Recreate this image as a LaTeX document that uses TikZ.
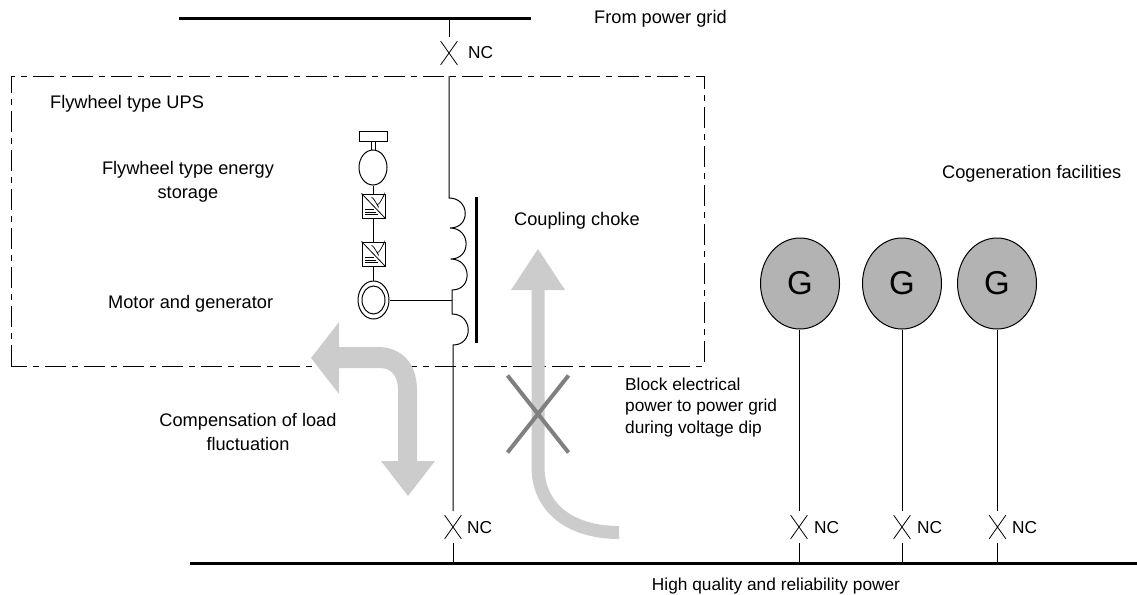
\documentclass[tikz,border=0pt]{standalone}
\usepackage{fontspec}
\setmainfont{Liberation Sans}
\usetikzlibrary{shapes.geometric,shapes.misc}
\definecolor{arrowgray}{HTML}{CCCCCC}
\definecolor{crossgray}{HTML}{808080}
\definecolor{gengray}{HTML}{B3B3B3}
\tikzset{
  wire/.style={line width=1pt,black},
  busbar/.style={line width=3pt,black},
  breaker/.style={cross out,draw=black,line width=0.8pt,minimum width=16pt,minimum height=23pt,inner sep=0pt},
  gapwire/.style={wire,shorten >=4pt},
  lbl/.style={font=\fontsize{18.2pt}{23.5pt}\selectfont,inner sep=0pt,text=black},
  lbls/.style={font=\fontsize{17.3pt}{21.5pt}\selectfont,inner sep=0pt,text=black},
  gen/.style={ellipse,draw=black,line width=1pt,fill=gengray,minimum width=79pt,minimum height=91pt,inner sep=0pt,font=\fontsize{33pt}{36pt}\selectfont},
  conv/.style={rectangle,draw=black,line width=1pt,minimum width=23pt,minimum height=24pt,inner sep=0pt},
  mach/.style={ellipse,draw=black,line width=1pt,inner sep=0pt},
  bigarrow/.style={fill=arrowgray,draw=none},
}
\newcommand{\convsym}[1]{%
  \draw[line width=0.8pt] (#1.north west) -- (#1.south east);
  \draw[line width=0.7pt] ([shift={(10,4)}]#1.north west) .. controls +(3,0) and +(3,8) .. ([shift={(16,11)}]#1.north west) .. controls +(3,0) and +(3,-8) .. ([shift={(22,3)}]#1.north west);
  \draw[line width=0.6pt] ([shift={(3,16)}]#1.north west) -- ([shift={(12,16)}]#1.north west);
  \draw[line width=0.6pt] ([shift={(3,18.5)}]#1.north west) -- ([shift={(14,18.5)}]#1.north west);
  \draw[line width=0.6pt] ([shift={(3,21)}]#1.north west) -- ([shift={(16,21)}]#1.north west);
}
\begin{document}
\begin{tikzpicture}[x=1pt,y=-1pt]
\useasboundingbox (0,0) rectangle (1137,594);
% UPS enclosure
\draw[line width=1pt,dash pattern=on 21pt off 6pt on 6pt off 6pt] (11,366) -- (11,76) -- (704,76) -- (704,366) -- cycle;

% bus bars
\coordinate (topL) at (179,19);
\coordinate (topR) at (531,19);
\coordinate (topT) at (449,19);
\coordinate (botL) at (190,563);
\coordinate (botR) at (1137,563);
\draw[busbar] (topL) -- (topR);
\draw[busbar] (botL) -- (botR);

% breakers
\node[breaker] (bTop) at (449,53) {};
\node[breaker] (bMain) at (453,527) {};
\node[breaker] (bG1) at (799,527) {};
\node[breaker] (bG2) at (902,527) {};
\node[breaker] (bG3) at (997.5,527) {};
\coordinate (busMain) at (453,563);
\coordinate (busG1) at (799,563);
\coordinate (busG2) at (902,563);
\coordinate (busG3) at (997.5,563);

% main line with coil
\coordinate (coilTop) at (449,198);
\coordinate (c1) at (450,228);
\coordinate (c2) at (450.7,259);
\coordinate (c3) at (452,290);
\coordinate (c4) at (452,314);
\coordinate (c5) at (453,345);
\coordinate (boxTop) at (449,76);
\coordinate (choke1) at (476,197);
\coordinate (choke2) at (476,343);
\draw[gapwire] (topT) -- (bTop.north);
\draw[wire] (boxTop) -- (coilTop)
  .. controls +(21,0) and +(21,0) .. (c1)
  .. controls +(21,0) and +(21,0) .. (c2)
  .. controls +(21,0) and +(21,0) .. (c3)
  -- (c4)
  .. controls +(21,0) and +(21,0) .. (c5)
  -- ([yshift=4pt]bMain.north);
\draw[wire] ([yshift=-4pt]bMain.south) -- (busMain);
\draw[line width=3pt] (choke1) -- (choke2);

% big grey arrows
\fill[bigarrow] (311,358) -- (339,322) -- (339,347) -- (378,347)
  .. controls (403,347) and (417,365) .. (417,390)
  -- (417,461) -- (435,461) -- (408,496) -- (381,461) -- (398,461) -- (398,390)
  .. controls (398,377) and (392,368) .. (380,368)
  -- (339,368) -- (339,394) -- cycle;
\fill[bigarrow] (538,249) -- (565,290) -- (544.5,290) -- (544.5,467)
  .. controls (544.5,505) and (575,526) .. (619,526)
  -- (619,539)
  .. controls (565,539) and (531.5,510) .. (531.5,467)
  -- (531.5,290) -- (511,290) -- cycle;
\node[cross out,draw=crossgray,line width=4pt,minimum width=57pt,minimum height=73pt,inner sep=0pt] (block) at (538,414) {};

% flywheel chain
\node[rectangle,draw=black,line width=1pt,minimum width=28pt,minimum height=10pt,inner sep=0pt] (wheel) at (373,136) {};
\node[mach,minimum width=28pt,minimum height=35pt] (fw) at (373,167.5) {};
\node[conv] (cv1) at (373.5,206) {};
\node[conv] (cv2) at (373.5,254) {};
\node[mach,minimum width=31pt,minimum height=38pt] (mg) at (373.5,300) {};
\node[mach,minimum width=23pt,minimum height=28pt] (mgi) at (373.5,300) {};
\convsym{cv1}
\convsym{cv2}
\draw[wire] ([xshift=-2pt]wheel.south) -- ([xshift=-2pt]wheel.south |- fw.north);
\draw[wire] ([xshift=2pt]wheel.south) -- ([xshift=2pt]wheel.south |- fw.north);
\draw[wire] (fw.south) -- (fw.south |- cv1.north);
\draw[wire] (cv1.south) -- (cv2.north);
\draw[wire] (cv2.south) -- (mg.north);
\coordinate (tap) at (452,300);
\draw[wire] (mg.east) -- (tap);

% generators
\node[gen] (g1) at (800,283.5) {G};
\node[gen] (g2) at (902,283.5) {G};
\node[gen] (g3) at (997,283.5) {G};
\foreach \n in {1,2,3}{
  \draw[wire] (bG\n.north |- g\n.south) -- ([yshift=4pt]bG\n.north);
  \draw[wire] ([yshift=-4pt]bG\n.south) -- (busG\n);
}

% labels
\node[lbl,anchor=base west] (tGrid) at (594,24) {From power grid};
\node[lbls,anchor=base west] (nc0) at (468,59) {NC};
\node[lbls,anchor=base west] (nc1) at (467,533) {NC};
\node[lbls,anchor=base west] (nc2) at (814,533) {NC};
\node[lbls,anchor=base west] (nc3) at (917,533) {NC};
\node[lbls,anchor=base west] (nc4) at (1012,533) {NC};
\node[lbl,anchor=base west] (tUps) at (50,108) {Flywheel type UPS};
\node[lbl,anchor=base,align=center] (tEnergy) at (188,198) {Flywheel type energy\\storage};
\node[lbl,anchor=base west] (tMotor) at (108,308) {Motor and generator};
\node[lbl,anchor=base west] (tChoke) at (514,225) {Coupling choke};
\node[lbl,anchor=base west] (tCogen) at (942,178) {Cogeneration facilities};
\node[lbl,anchor=base,align=center] (tComp) at (248,450) {Compensation of load\\fluctuation};
\node[lbls,anchor=base west,align=left] (tBlock) at (625,433) {Block electrical\\power to power grid\\during voltage dip};
\node[lbls,anchor=base] (tQual) at (776,590) {High quality and reliability power};
\end{tikzpicture}
\end{document}
